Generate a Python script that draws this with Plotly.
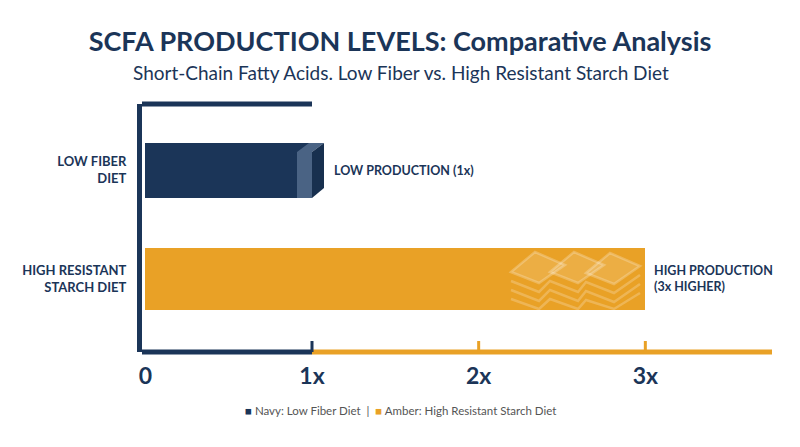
import plotly.graph_objects as go

# data
categories = ["LOW FIBER DIET", "HIGH RESISTANT STARCH DIET"]
tick_labels_y = ["LOW FIBER<br>DIET", "HIGH RESISTANT<br>STARCH DIET"]
production = [1, 3]
bar_notes = ["LOW PRODUCTION (1x)", "HIGH PRODUCTION<br>(3x HIGHER)"]
x_ticks = [0, 1, 2, 3]
x_tick_text = ["0", "1x", "2x", "3x"]

NAVY = "#1B3558"
AMBER = "#E9A126"
FONT = "Lato"

x_range = [-0.02, 3.76]
y_range = [-0.67, 1.606]

# page pixel -> data helpers for the decorative shapes (page body has 8px margin)
def xd(px):
    return x_range[0] + (px - 142) / 630 * (x_range[1] - x_range[0])

def yd(py):
    return 1 + (170 - py) / 109

fig = go.Figure()
fig.add_trace(go.Bar(
    y=categories, x=production, orientation="h",
    marker=dict(color=[NAVY, AMBER], line=dict(width=0)),
    width=[0.505, 0.578], showlegend=False, hoverinfo="x+y",
))

shapes = []
# axis frame: top stub, bottom line split navy / amber
shapes.append(dict(type="line", xref="x", yref="paper", x0=x_range[0], x1=production[0],
                   y0=1, y1=1, line=dict(color=NAVY, width=5)))
shapes.append(dict(type="line", xref="x", yref="paper", x0=x_range[0], x1=production[0],
                   y0=0, y1=0, line=dict(color=NAVY, width=5)))
shapes.append(dict(type="line", xref="x", yref="paper", x0=production[0], x1=x_range[1],
                   y0=0, y1=0, line=dict(color=AMBER, width=5)))
for t in x_ticks[1:]:
    shapes.append(dict(type="line", xref="x", yref="paper", ysizemode="pixel", yanchor=0,
                       x0=t, x1=t, y0=0, y1=11,
                       line=dict(color=NAVY if t == production[0] else AMBER, width=3)))

def poly(points):
    return "M " + " L ".join(f"{xd(a)},{yd(b)}" for a, b in points) + " Z"

def polyline(points):
    return "M " + " L ".join(f"{xd(a)},{yd(b)}" for a, b in points)

# 3d end on the navy bar
shapes.append(dict(type="path", xref="x", yref="y", line=dict(width=0), fillcolor="#4A6384",
                   path=poly([(297, 198), (312, 198), (312, 152), (324, 143),
                              (309, 143), (297, 152)])))
shapes.append(dict(type="path", xref="x", yref="y", line=dict(width=0), fillcolor="#18304F",
                   path=poly([(312, 198), (312, 152), (324, 143), (324, 188)])))

# tile pattern on the amber bar
tiles = [(539, 267), (578, 267), (614, 268)]
for cx, cy in tiles:
    shapes.append(dict(type="path", xref="x", yref="y",
                       line=dict(color="rgba(255,255,255,0.24)", width=2.5),
                       fillcolor="rgba(255,255,255,0.14)",
                       path=poly([(cx - 28, cy + 5), (cx - 4, cy - 15),
                                  (cx + 26, cy - 2), (cx, cy + 16)])))
for k in [9, 18, 27]:
    pts = []
    for cx, cy in tiles:
        pts += [(cx - 28, cy + 5 + k), (cx, cy + 16 + k)]
    cx, cy = tiles[-1]
    pts.append((cx + 26, cy - 2 + k))
    pts = [(a, min(b, 309)) for a, b in pts]
    shapes.append(dict(type="path", xref="x", yref="y",
                       line=dict(color="rgba(255,255,255,0.22)", width=2.5),
                       path=polyline(pts)))

annotations = []
for cat, val, note, shift in zip(categories, production, bar_notes, [20, 7]):
    annotations.append(dict(x=val, y=cat, xref="x", yref="y", text=f"<b>{note}</b>",
                            showarrow=False, xanchor="left", align="left", xshift=shift,
                            font=dict(family=FONT, size=12.5, color=NAVY)))

annotations.append(dict(
    x=0.41, y=-0.27, xref="paper", yref="paper", showarrow=False, xanchor="center",
    text=(f"<span style='color:{NAVY}'>■</span> Navy: Low Fiber Diet  |  "
          f"<span style='color:{AMBER}'>■</span> Amber: High Resistant Starch Diet"),
    font=dict(family=FONT, size=11.5, color="#555555"),
))
annotations.append(dict(
    x=0.411, y=1, yshift=32, xref="paper", yref="paper", showarrow=False,
    xanchor="center", yanchor="middle",
    text="Short-Chain Fatty Acids. Low Fiber vs. High Resistant Starch Diet",
    font=dict(family=FONT, size=19, color=NAVY),
))

fig.update_layout(
    width=800, height=447,
    paper_bgcolor="white", plot_bgcolor="white",
    margin=dict(l=134, r=36, t=96, b=103),
    bargap=0,
    title=dict(text="<b>SCFA PRODUCTION LEVELS: Comparative Analysis</b>",
               x=0.49, xanchor="center", y=0.924, yanchor="middle",
               font=dict(family=FONT, size=27, color=NAVY)),
    shapes=shapes,
    annotations=annotations,
    font=dict(family=FONT, color=NAVY),
)

fig.update_xaxes(range=x_range, showgrid=False, zeroline=False, showline=False,
                 tickvals=x_ticks, ticktext=[f"<b>{t}</b>" for t in x_tick_text],
                 tickfont=dict(family=FONT, size=23, color=NAVY), ticks="",
                 ticklabelstandoff=8)
fig.update_yaxes(range=y_range, showgrid=False, zeroline=False,
                 showline=True, linecolor=NAVY, linewidth=5,
                 categoryorder="array", categoryarray=categories[::-1],
                 tickvals=categories, ticktext=[f"<b>{t}</b>" for t in tick_labels_y],
                 tickfont=dict(family=FONT, size=13, color=NAVY), ticks="",
                 ticklabelstandoff=8)

fig.write_html("out.html")
